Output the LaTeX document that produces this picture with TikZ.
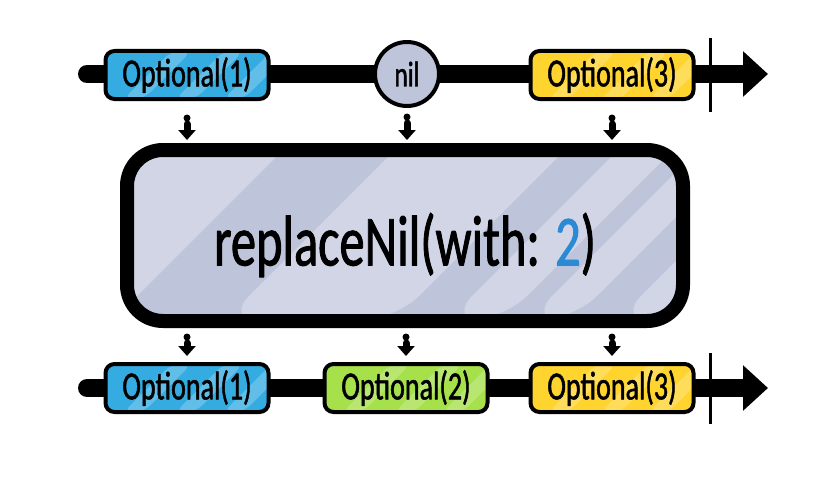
\documentclass[tikz,border=0pt]{standalone}
\usepackage{fontspec}
\setmainfont[FakeStretch=0.7, FakeBold=1.2]{Carlito}
\usetikzlibrary{positioning,arrows.meta}
\definecolor{evblue}{HTML}{34ACE2}
\definecolor{evyellow}{HTML}{FFD42E}
\definecolor{evgreen}{HTML}{A6E04A}
\definecolor{lav}{HTML}{BEC4DA}
\definecolor{numblue}{HTML}{2A8AD4}

\begin{document}
\begin{tikzpicture}[x=1pt, y=-1pt,
    c/.style={line width=4pt, line join=round},
    ev/.style={c, draw=black, rounded corners=9pt, minimum width=163pt, minimum height=48pt,
               inner sep=0pt, font=\fontsize{40}{40}\selectfont,
               path picture={\foreach \s in {18,70,118}
                 \fill[white, opacity=.22] ([xshift=\s pt]path picture bounding box.south west)
                   -- ++(20pt,0pt) -- ++(48pt,48pt) -- ++(-20pt,0pt) -- cycle;}},
    nilc/.style={c, circle, draw=black, fill=lav, minimum size=64pt, inner sep=0pt,
                 font=\fontsize{36}{36}\selectfont},
    big/.style={draw=black, line width=14pt, line join=round, rounded corners=36pt, fill=lav,
                minimum width=556pt, minimum height=171pt, inner sep=0pt,
                font=\fontsize{72}{72}\selectfont, text height=72pt, text depth=12pt,
                path picture={\foreach \s/\w in {-150/135,97/170,320/55,400/45,489/60}
                  \fill[white, opacity=.3] ([xshift=\s pt]path picture bounding box.south west)
                    -- ++(\w pt,0pt) -- ++(200pt,200pt) -- ++(-\w pt,0pt) -- cycle;}},
    axis/.style={line width=18pt, line cap=round, -{Triangle[length=25pt,width=44pt]}},
    tick/.style={line width=3pt},
    feed/.style={line width=7pt, line cap=round, dash pattern=on 0pt off 6pt on 40pt off 40pt,
                 -{Triangle[length=10pt,width=17pt]}, shorten <=17pt, shorten >=3pt}]
  \useasboundingbox (0,0) rectangle (826,487);

  % input stream
  \coordinate (a0) at (87,74);
  \coordinate (a1) at (768,74);
  \coordinate (k0) at (710,38);
  \coordinate (k1) at (710,112);
  \draw[axis] (a0) -- (a1);
  \draw[tick] (k0) -- (k1);
  \node[ev, fill=evblue]   (i1) at (187,75) {Optional(1)};
  \node[nilc]              (i2) at (407,74) {nil};
  \node[ev, fill=evyellow] (i3) at (612,75) {Optional(3)};

  % operator
  \node[big] (op) at (405,235.5) {replaceNil(with: \textcolor{numblue}{2})};

  % output stream
  \coordinate (b0) at (87,388);
  \coordinate (b1) at (768,388);
  \coordinate (m0) at (710,353);
  \coordinate (m1) at (710,424);
  \draw[axis] (b0) -- (b1);
  \draw[tick] (m0) -- (m1);
  \node[ev, fill=evblue]   (o1) at (187,388) {Optional(1)};
  \node[ev, fill=evgreen]  (o2) at (406,388) {Optional(2)};
  \node[ev, fill=evyellow] (o3) at (612,388) {Optional(3)};

  \draw[feed] (i1) -- (i1 |- op.north);
  \draw[feed, shorten <=9pt] (i2) -- (i2 |- op.north);
  \draw[feed] (i3) -- (i3 |- op.north);
  \draw[feed, shorten <=9pt, shorten >=6pt] (op.south -| o1) -- (o1);
  \draw[feed, shorten <=9pt, shorten >=6pt] (op.south -| o2) -- (o2);
  \draw[feed, shorten <=9pt, shorten >=6pt] (op.south -| o3) -- (o3);
\end{tikzpicture}
\end{document}
